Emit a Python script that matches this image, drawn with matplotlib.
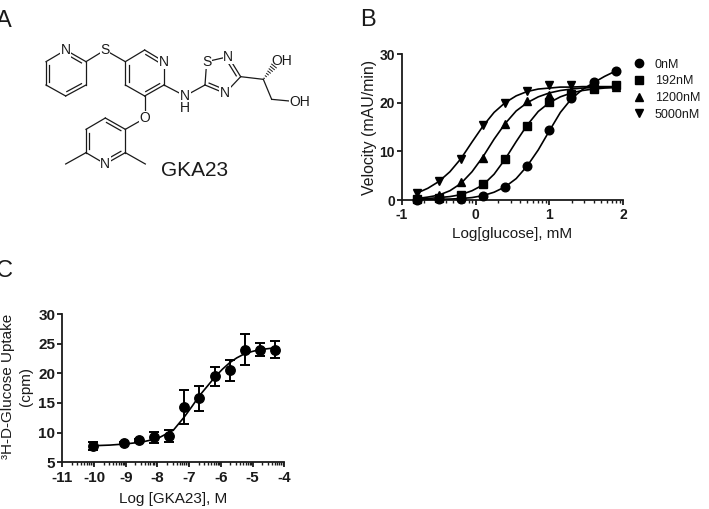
import numpy as np
import matplotlib
matplotlib.use('Agg')
import matplotlib.pyplot as plt
from matplotlib.lines import Line2D

plt.rcParams['font.family'] = ['Liberation Sans', 'DejaVu Sans']
plt.rcParams['axes.unicode_minus'] = False
INK = '#1a1a1a'

# Glucose titration at four GKA23 doses
glucose_log = [-0.8, -0.5, -0.2, 0.1, 0.4, 0.7, 1.0, 1.3, 1.6, 1.9]
v_0nm = [0.1, 0.2, 0.3, 0.8, 2.6, 7.0, 14.3, 21.0, 24.3, 26.6]
v_192nm = [0.3, 0.4, 1.0, 3.2, 8.4, 15.3, 20.2, 21.8, 22.8, 23.6]
v_1200nm = [0.4, 1.0, 3.6, 8.7, 15.7, 20.3, 21.5, 22.5, 23.2, 23.3]
v_5000nm = [1.5, 3.9, 8.5, 15.4, 20.0, 22.5, 23.7, 23.7, 23.2, 23.2]
dose_labels = ['0nM', '192nM', '1200nM', '5000nM']
dose_markers = ['o', 's', '^', 'v']

# Fitted curves
fit_x = [-0.8, -0.65, -0.5, -0.35, -0.2, -0.05, 0.1, 0.25, 0.4, 0.55, 0.7,
         0.85, 1.0, 1.15, 1.3, 1.45, 1.6, 1.75, 1.9]
fit_0nm = [0.05, 0.1, 0.15, 0.2, 0.3, 0.5, 0.9, 1.6, 2.7, 4.4, 7.0,
           10.3, 14.2, 18.0, 20.8, 22.7, 24.1, 25.4, 26.5]
fit_192nm = [0.2, 0.3, 0.5, 0.7, 1.1, 1.9, 3.1, 5.3, 8.4, 12.0, 15.4,
             18.2, 20.0, 21.2, 22.0, 22.5, 22.8, 23.0, 23.1]
fit_1200nm = [0.3, 0.6, 1.0, 1.9, 3.4, 5.8, 8.9, 12.5, 15.7, 18.3, 20.0,
              21.2, 22.0, 22.5, 22.8, 23.0, 23.1, 23.2, 23.2]
fit_5000nm = [1.4, 2.4, 3.8, 5.8, 8.5, 11.9, 15.2, 18.0, 20.0, 21.4, 22.3,
              22.8, 23.0, 23.2, 23.2, 23.3, 23.3, 23.3, 23.3]

# Uptake dose response
gka_log = [-10.02, -9.07, -8.59, -8.12, -7.64, -7.16, -6.68, -6.2, -5.72, -5.25, -4.76, -4.29]
uptake = [7.75, 8.25, 8.7, 9.2, 9.5, 14.3, 15.8, 19.5, 20.5, 24.0, 24.0, 24.0]
uptake_err = [0.7, 0.2, 0.3, 0.9, 1.0, 2.9, 2.1, 1.6, 1.8, 2.6, 1.1, 1.4]
uptake_fit_x = [-10.0, -9.5, -9.0, -8.5, -8.0, -7.5, -7.16, -6.9, -6.68, -6.4, -6.2,
                -5.95, -5.72, -5.5, -5.25, -5.0, -4.76, -4.29]
uptake_fit = [7.8, 7.9, 8.1, 8.4, 9.0, 10.4, 12.6, 14.5, 16.2, 18.0, 19.3,
              20.7, 21.8, 22.6, 23.3, 23.7, 24.0, 24.3]

# Molecule skeleton in figure pixels (x3)
atoms = {
    'N1': (197, 150), 'C2': (258, 185), 'C3': (258, 255), 'C4': (197, 288), 'C5': (138, 255), 'C6': (138, 185),
    'S1': (315, 150),
    'M1': (376, 185), 'M2': (434, 150), 'M3': (492, 185), 'M4': (492, 255), 'M5': (434, 288), 'M6': (376, 255),
    'NH': (555, 288),
    'T1': (615, 255), 'T2': (620, 185), 'T3': (685, 170), 'T4': (722, 230), 'T5': (675, 280),
    'CH': (790, 238), 'CH2': (815, 298), 'OH2': (900, 306),
    'O1': (434, 355),
    'L1': (376, 388), 'L2': (316, 354), 'L3': (258, 388), 'L4': (258, 458), 'L5': (316, 492), 'L6': (376, 458),
    'Me1': (197, 492), 'Me2': (436, 492),
}
single_bonds = [('N1', 'C6'), ('C2', 'C3'), ('C4', 'C5'), ('C2', 'S1'), ('S1', 'M1'),
                ('M1', 'M2'), ('M3', 'M4'), ('M5', 'M6'), ('M4', 'NH'), ('NH', 'T1'),
                ('T1', 'T2'), ('T2', 'T3'), ('T4', 'T5'), ('T4', 'CH'), ('CH', 'CH2'),
                ('CH2', 'OH2'), ('M5', 'O1'), ('O1', 'L1'), ('L1', 'L6'), ('L2', 'L3'),
                ('L4', 'L5'), ('L4', 'Me1'), ('L6', 'Me2')]
# double bond: both ends, then the ring centre the inner stroke leans towards
double_bonds = [('N1', 'C2', (197, 220)), ('C3', 'C4', (197, 220)), ('C5', 'C6', (197, 220)),
                ('M2', 'M3', (434, 220)), ('M4', 'M5', (434, 220)), ('M6', 'M1', (434, 220)),
                ('L1', 'L2', (316, 423)), ('L3', 'L4', (316, 423)), ('L5', 'L6', (316, 423)),
                ('T3', 'T4', (660, 232)), ('T1', 'T5', (660, 232))]
atom_labels = [('N1', 'N'), ('S1', 'S'), ('M3', 'N'), ('NH', 'N'), ('T2', 'S'), ('T3', 'N'),
               ('T5', 'N'), ('O1', 'O'), ('L5', 'N')]


def draw_molecule(ax):
    for a, b in single_bonds:
        p, q = atoms[a], atoms[b]
        ax.plot([p[0] / 3, q[0] / 3], [p[1] / 3, q[1] / 3], color=INK, lw=0.9, zorder=1)
    for a, b, centre in double_bonds:
        p, q, c = np.array(atoms[a]), np.array(atoms[b]), np.array(centre)
        ax.plot([p[0] / 3, q[0] / 3], [p[1] / 3, q[1] / 3], color=INK, lw=0.9, zorder=1)
        # inner stroke, pulled in towards the ring centre and shortened
        mid = (p + q) / 2
        inward = (c - mid) / np.linalg.norm(c - mid) * 10
        p2 = p + (q - p) * 0.14 + inward
        q2 = q - (q - p) * 0.14 + inward
        ax.plot([p2[0] / 3, q2[0] / 3], [p2[1] / 3, q2[1] / 3], color=INK, lw=0.9, zorder=1)
    for key, s in atom_labels:
        x, y = atoms[key]
        ax.text(x / 3, y / 3, s, fontsize=10, color=INK, ha='center', va='center', zorder=2,
                bbox=dict(fc='white', ec='none', pad=0.4))
    ax.text(555 / 3, 325 / 3, 'H', fontsize=10, color=INK, ha='center', va='center', zorder=2)
    ax.text(845 / 3, 182 / 3, 'OH', fontsize=10, color=INK, ha='center', va='center', zorder=2)
    ax.text(900 / 3, 306 / 3, 'OH', fontsize=10, color=INK, ha='center', va='center', zorder=2,
            bbox=dict(fc='white', ec='none', pad=0.4))
    # hashed wedge up to the hydroxyl
    start, end = np.array(atoms['CH'], float), np.array((822, 198), float)
    d = end - start
    perp = np.array([-d[1], d[0]]) / np.linalg.norm(d)
    for t in np.linspace(0.08, 1, 7):
        m = start + d * t
        w = 9 * t
        ax.plot([(m - perp * w)[0] / 3, (m + perp * w)[0] / 3], [(m - perp * w)[1] / 3, (m + perp * w)[1] / 3],
                color=INK, lw=0.7, zorder=1)


def style_axes(ax, xlim, ylim, xticks, yticks, tick_size, xpad):
    ax.set_xlim(*xlim)
    ax.set_ylim(*ylim)
    for side in ['top', 'right']:
        ax.spines[side].set_visible(False)
    for side in ['left', 'bottom']:
        ax.spines[side].set_linewidth(1.3)
        ax.spines[side].set_color(INK)
    ax.set_xticks(xticks)
    ax.set_yticks(yticks)
    # log decades are plotted as exponents, so minor ticks sit at log10(2..9)
    minor = [d + np.log10(k) for d in xticks[:-1] for k in range(2, 10)]
    ax.set_xticks(minor, minor=True)
    ax.tick_params(axis='both', which='major', length=3.5, width=1.3, color=INK, labelsize=tick_size,
                   pad=1.5, labelcolor=INK)
    ax.tick_params(axis='x', which='major', pad=xpad)
    ax.tick_params(axis='x', which='minor', length=1.8, width=1.0, color=INK)
    for label in ax.get_xticklabels() + ax.get_yticklabels():
        label.set_fontweight('bold')


fig = plt.figure(figsize=(7.09, 5.09), dpi=100)

# full-figure layer in pixels for the structure and panel letters
canvas = fig.add_axes([0, 0, 1, 1])
canvas.set_xlim(0, 709)
canvas.set_ylim(509, 0)
canvas.axis('off')
draw_molecule(canvas)
canvas.text(195, 171, 'GKA23', fontsize=15, color=INK, ha='center', va='center')
canvas.text(4, 21, 'A', fontsize=17, color=INK, ha='center', va='center')
canvas.text(368, 20, 'B', fontsize=17, color=INK, ha='center', va='center')
canvas.text(4, 271, 'C', fontsize=17, color=INK, ha='center', va='center')

# Panel B
axb = fig.add_axes([402 / 709, 1 - 200 / 509, 221 / 709, 146 / 509])
style_axes(axb, (-1, 2), (0, 30), [-1, 0, 1, 2], [0, 10, 20, 30], 10, 2.2)
velocity = [v_0nm, v_192nm, v_1200nm, v_5000nm]
fits = [fit_0nm, fit_192nm, fit_1200nm, fit_5000nm]
handles = []
for vals, fit, mk, lab in zip(velocity, fits, dose_markers, dose_labels):
    axb.plot(fit_x, fit, color='black', lw=1.2, clip_on=False, zorder=3)
    axb.plot(glucose_log, vals, ls='none', marker=mk, ms=6.2, color='black', clip_on=False, zorder=4)
    handles.append(Line2D([], [], ls='none', marker=mk, ms=6, color='black', label=lab))
axb.set_xlabel('Log[glucose], mM', fontsize=11, color=INK, labelpad=3.5)
axb.set_ylabel('Velocity (mAU/min)', fontsize=11.4, color=INK, labelpad=1.8)
axb.legend(handles=handles, loc='upper left', bbox_to_anchor=(0.965, 1.045), frameon=False, fontsize=9,
           labelspacing=0.37, handletextpad=0.25, labelcolor=INK)

# Panel C
axc = fig.add_axes([62.3 / 709, 1 - 462.3 / 509, 222 / 709, 148.3 / 509])
style_axes(axc, (-11, -4), (5, 30), list(range(-11, -3)), [5, 10, 15, 20, 25, 30], 11, 3)
axc.plot(uptake_fit_x, uptake_fit, color='black', lw=1.2, zorder=3)
axc.errorbar(gka_log, uptake, yerr=uptake_err, fmt='o', ms=6.8, color='black', ecolor='black',
             elinewidth=1.4, capsize=3.6, capthick=1.4, zorder=4)
axc.set_xlabel('Log [GKA23], M', fontsize=11, color=INK, labelpad=4.5)
canvas.text(17, 386, '³H-D-Glucose Uptake\n(cpm)', fontsize=11, color=INK, rotation=90,
            ha='center', va='center', multialignment='center', linespacing=1.35)

fig.savefig('out.png', dpi=100)
